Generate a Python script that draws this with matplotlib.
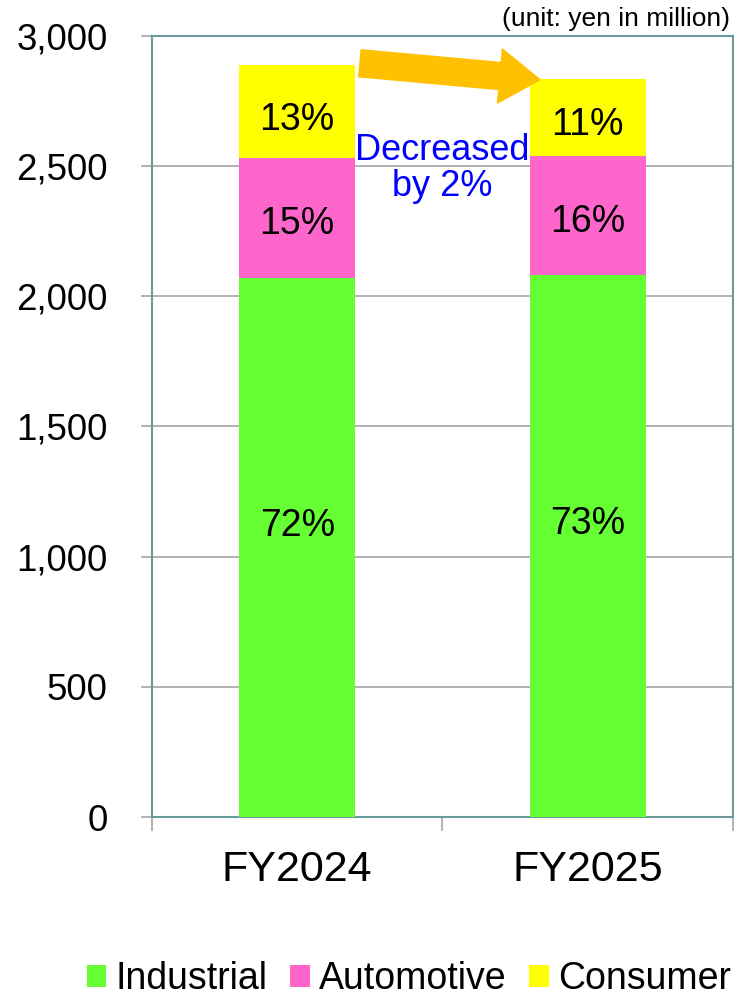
import numpy as np
import matplotlib
matplotlib.use("Agg")
import matplotlib.pyplot as plt
from matplotlib.patches import Patch

# data (yen in million)
years = ["FY2024", "FY2025"]
segments = ["Industrial", "Automotive", "Consumer"]
industrial = [2072, 2082]
automotive = [461, 455]
consumer = [356, 297]
share_labels = [["72%", "73%"], ["15%", "16%"], ["13%", "11%"]]

colors = ["#66FF33", "#FF66CC", "#FFFF00"]
label_pos = [0.54, 0.45, 0.41]  # where the % label sits inside each segment

plt.rcParams["font.family"] = ["Liberation Sans", "DejaVu Sans"]

fig = plt.figure(figsize=(7.34, 9.96), dpi=100)
ax = fig.add_axes([0.207, 0.1797, 0.7916, 0.7842])

x = np.arange(len(years))
bottom = np.zeros(len(years))
for vals, col, labs, frac in zip([industrial, automotive, consumer], colors, share_labels, label_pos):
    vals = np.array(vals, dtype=float)
    ax.bar(x, vals, 0.4, bottom=bottom, color=col, zorder=3)
    for xi, b, v, lab in zip(x, bottom, vals, labs):
        ax.text(xi, b + v * frac, lab, ha="center", va="center", fontsize=27, zorder=4)
    bottom += vals

ax.set_xlim(-0.5, 1.5)
ax.set_ylim(0, 3000)
ax.set_yticks(np.arange(0, 3001, 500))
ax.set_yticklabels([f"{v:,}" for v in range(0, 3001, 500)], fontsize=26.5)
ax.yaxis.grid(True, color="#A6A6A6", linewidth=1.2, zorder=0)
ax.tick_params(axis="y", length=8, width=1.2, color="#A6A6A6", pad=24)

ax.set_xticks(x)
ax.set_xticklabels(years, fontsize=31)
ax.tick_params(axis="x", which="major", length=0, pad=24)
ax.set_xticks([-0.5, 0.5, 1.5], minor=True)
ax.tick_params(axis="x", which="minor", length=10, width=1.2, color="#A6A6A6")

for s in ax.spines.values():
    s.set_color("#6B9C9C")
    s.set_linewidth(1.5)

# orange arrow between the two bars
ax.annotate("", xy=(0.836, 2832), xytext=(0.216, 2895),
            arrowprops=dict(arrowstyle="simple,head_length=2.9,head_width=3.9,tail_width=1.95",
                            color="#FFC000", shrinkA=0, shrinkB=0),
            annotation_clip=False, zorder=5)
ax.text(0.5, 2490, "Decreased\nby 2%", ha="center", va="center", color="#0000FF",
        fontsize=26, linespacing=1.05, zorder=6)

fig.text(0.995, 0.981, "(unit: yen in million)", ha="right", va="center", fontsize=19)

handles = [Patch(facecolor=c, edgecolor="none") for c in colors]
fig.legend(handles, segments, loc="center", bbox_to_anchor=(0.557, 0.017), ncol=3,
           frameon=False, fontsize=27, handlelength=0.52, handleheight=0.52,
           handletextpad=0.25, columnspacing=0.6, borderaxespad=0)

fig.savefig("out.png", dpi=100)
